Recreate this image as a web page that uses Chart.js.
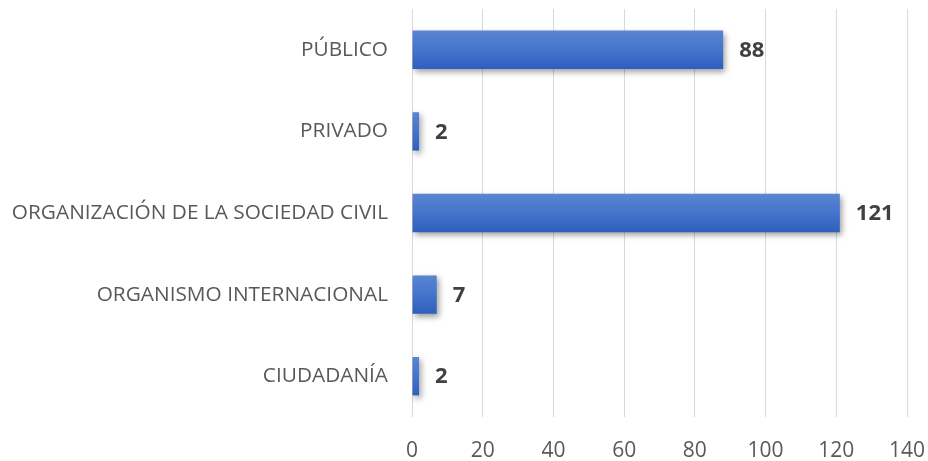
<!DOCTYPE html>
<html><head><meta charset="utf-8">
<script src="https://cdn.jsdelivr.net/npm/chart.js@4/dist/chart.umd.min.js"></script>
<style>html,body{margin:0;padding:0;background:#fff}#wrap{width:928px;height:461px}</style>
</head><body><div id="wrap"><canvas id="c" width="928" height="461"></canvas></div>
<script>
const categories = ["PÚBLICO", "PRIVADO", "ORGANIZACIÓN DE LA SOCIEDAD CIVIL", "ORGANISMO INTERNACIONAL", "CIUDADANÍA"];
const values = [88, 2, 121, 7, 2];
const xTicks = [0, 20, 40, 60, 80, 100, 120, 140];

const FONT = "'Open Sans', 'Noto Sans', sans-serif";
const BAR_PCT = 0.47;

function barGradient(ctx) {
  const chart = ctx.chart;
  const ys = chart.scales && chart.scales.y;
  if (!ys || ctx.dataIndex === undefined) return '#4472c4';
  const c = ys.getPixelForValue(ctx.dataIndex);
  const band = (ys.bottom - ys.top) / categories.length;
  const h = band * BAR_PCT;
  if (!isFinite(c) || !isFinite(h) || h <= 0) return '#4472c4';
  const g = chart.ctx.createLinearGradient(0, c - h / 2, 0, c + h / 2);
  g.addColorStop(0, '#5b84d2');
  g.addColorStop(0.5, '#4574cc');
  g.addColorStop(1, '#2e5fbd');
  return g;
}

const shadowPlugin = {
  id: 'shadow',
  beforeDatasetsDraw(chart) {
    const c = chart.ctx;
    c.save();
    c.shadowColor = 'rgba(0,0,0,0.38)';
    c.shadowBlur = 6;
    c.shadowOffsetX = 2;
    c.shadowOffsetY = 3;
  },
  afterDatasetsDraw(chart) {
    chart.ctx.restore();
    const c = chart.ctx;
    const meta = chart.getDatasetMeta(0);
    c.save();
    c.font = "bold 22px " + FONT;
    c.fillStyle = '#404040';
    c.textAlign = 'left';
    c.textBaseline = 'middle';
    meta.data.forEach((el, i) => {
      c.fillText(String(values[i]), el.x + 16, el.y + 1);
    });
    c.restore();
  }
};

new Chart(document.getElementById('c'), {
  type: 'bar',
  data: {
    labels: categories,
    datasets: [{
      data: values,
      backgroundColor: barGradient,
      borderWidth: 0,
      barPercentage: BAR_PCT,
      categoryPercentage: 1.0
    }]
  },
  options: {
    indexAxis: 'y',
    responsive: false,
    animation: false,
    devicePixelRatio: 1,
    layout: { padding: { top: 9, right: 21, bottom: 2, left: 0 } },
    plugins: { legend: { display: false }, tooltip: { enabled: false } },
    scales: {
      x: {
        min: 0, max: 140,
        afterBuildTicks(scale) { scale.ticks = xTicks.map(v => ({ value: v })); },
        grid: { color: '#d9d9d9', lineWidth: 1, drawTicks: false },
        border: { display: false },
        ticks: { color: '#595959', font: { family: FONT, size: 21 }, padding: 21, maxRotation: 0 },
        afterFit(scale) { scale.paddingLeft = 0; scale.paddingRight = 0; scale.height = 42; }
      },
      y: {
        grid: { display: false, drawTicks: false },
        border: { display: false },
        ticks: { color: '#595959', font: { family: FONT, size: 20.8 }, padding: 24 },
        afterFit(scale) { scale.width = 412; scale.paddingTop = 0; scale.paddingBottom = 0; }
      }
    }
  },
  plugins: [shadowPlugin]
});
</script>
</body></html>
